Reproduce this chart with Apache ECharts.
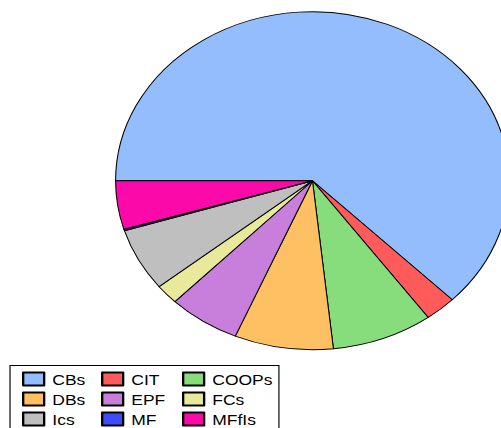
<!DOCTYPE html>
<html>
<head>
<meta charset="utf-8">
<script src="https://cdn.jsdelivr.net/npm/echarts@6/dist/echarts.min.js"></script>
<style>
  html, body { margin: 0; padding: 0; background: #fff; overflow: hidden; }
  #wrap { width: 501px; height: 428px; overflow: hidden; position: relative; }
  #chart { width: 430px; height: 470px; transform: scaleX(1.1651); transform-origin: 0 0; }
</style>
</head>
<body>
<div id="wrap"><div id="chart"></div></div>
<script>
const categories = ['CBs', 'CIT', 'COOPs', 'DBs', 'EPF', 'FCs', 'Ics', 'MF', 'MFfIs'];
const shares = [62.4, 2.56, 8.3, 8.1, 5.9, 1.9, 6.0, 0.14, 4.64];
const colors = ['#94bdfd', '#ff5b5b', '#87dc7b', '#ffbf63', '#c77fdb', '#e9e99c', '#bfbfbf', '#3d4dfa', '#fb0aa9'];
const legendColumns = [
  ['CBs', 'DBs', 'Ics'],
  ['CIT', 'EPF', 'MF'],
  ['COOPs', 'FCs', 'MFfIs']
];
const columnLeft = [18.9, 86.7, 156.2];

const legendBase = {
  top: 369,
  orient: 'vertical',
  itemWidth: 18,
  itemHeight: 13,
  itemGap: 0,
  padding: 0,
  selectedMode: false,
  icon: 'rect',
  textStyle: {
    fontFamily: 'Liberation Sans, Arial, sans-serif',
    fontSize: 15,
    color: '#000',
    lineHeight: 20,
    padding: [0, 0, 0, 2]
  }
};

const chart = echarts.init(document.getElementById('chart'), null, { renderer: 'svg' });
chart.setOption({
  animation: false,
  color: colors,
  legend: legendColumns.map((col, i) => Object.assign({}, legendBase, { left: columnLeft[i], data: col })),
  graphic: [{
    type: 'rect',
    shape: { x: 8.6, y: 365.5, width: 230.8, height: 80 },
    style: { fill: 'none', stroke: '#000', lineWidth: 1 },
    silent: true
  }],
  series: [{
    type: 'pie',
    center: [268.2, 180.7],
    radius: 169,
    startAngle: 180,
    clockwise: true,
    avoidLabelOverlap: false,
    label: { show: false },
    labelLine: { show: false },
    emphasis: { disabled: true },
    itemStyle: { borderColor: '#000', borderWidth: 0.9 },
    data: categories.map((c, i) => ({ name: c, value: shares[i] }))
  }]
});
</script>
</body>
</html>
